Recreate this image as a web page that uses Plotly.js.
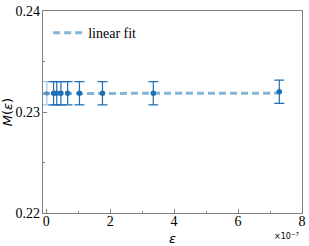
<!DOCTYPE html>
<html><head><meta charset="utf-8">
<script src="https://cdn.plot.ly/plotly-3.0.1.min.js"></script>
<style>html,body{margin:0;padding:0;background:#fff}#c{width:309px;height:246px}</style>
</head><body><div id="c"></div>
<script>
const epsilon = [0.23e-7, 0.33e-7, 0.46e-7, 0.67e-7, 1.04e-7, 1.76e-7, 3.35e-7, 7.29e-7];
const mValues = [0.23185, 0.23185, 0.23185, 0.23185, 0.23185, 0.23185, 0.23185, 0.2320];
const mErrors = [0.00115, 0.00115, 0.00115, 0.00115, 0.00115, 0.00115, 0.00115, 0.00115];
const extrapX = [0.02e-7];
const extrapY = [0.23185];
const extrapErr = [0.00115];
const fitX = [-0.1e-7, 7.29e-7];
const fitY = [0.23183, 0.23187];
const xTickVals = [0, 2e-7, 4e-7, 6e-7, 8e-7];
const xTickText = ["0", "2", "4", "6", "8"];
const yTickVals = [0.22, 0.23, 0.24];
const yTickText = ["0.22", "0.23", "0.24"];

const blue = '#1f6fb4';
const traces = [
  {x: fitX, y: fitY, mode: 'lines', name: 'linear fit',
   line: {color: 'rgba(31,119,180,0.55)', width: 3, dash: '7px,4px'}},
  {x: extrapX, y: extrapY, mode: 'markers', showlegend: false,
   marker: {color: 'rgba(31,111,180,0.4)', size: 5},
   error_y: {type: 'data', array: extrapErr, visible: true, color: 'rgba(31,111,180,0.4)', thickness: 1.2, width: 5}},
  {x: epsilon, y: mValues, mode: 'markers', showlegend: false,
   marker: {color: blue, size: 5.5},
   error_y: {type: 'data', array: mErrors, visible: true, color: blue, thickness: 1.2, width: 5}}
];
const serif = 'Liberation Serif';
const layout = {
  width: 309, height: 246,
  margin: {l: 43, r: 7, t: 11, b: 33},
  paper_bgcolor: '#fff', plot_bgcolor: '#fff',
  font: {family: serif, color: '#000'},
  showlegend: true,
  legend: {x: 0.02, y: 0.97, xanchor: 'left', yanchor: 'top', bgcolor: 'rgba(0,0,0,0)',
           font: {family: serif, size: 14, color: '#000'}},
  xaxis: {range: [-0.1e-7, 8e-7], tickmode: 'array', tickvals: xTickVals, ticktext: xTickText,
          ticks: 'inside', ticklen: 4, tickcolor: '#808080', showline: true, linecolor: '#808080', linewidth: 1.3,
          mirror: true, showgrid: false, zeroline: false, ticklabelstandoff: -5,
          tickfont: {family: serif, size: 14, color: '#000'},
          minor: {tickmode: 'array', tickvals: [1e-7, 3e-7, 5e-7, 7e-7], ticks: 'inside', ticklen: 2, tickcolor: '#808080', showgrid: false},
          title: {text: '<i>ε</i>', font: {family: 'DejaVu Sans', size: 13, color: '#000'}, standoff: 8}},
  yaxis: {range: [0.22, 0.24], tickmode: 'array', tickvals: yTickVals, ticktext: yTickText,
          ticks: 'inside', ticklen: 4, tickcolor: '#808080', showline: true, linecolor: '#808080', linewidth: 1.3,
          mirror: true, showgrid: false, zeroline: false, ticklabelstandoff: -1,
          tickfont: {family: serif, size: 14, color: '#000'},
          minor: {tickmode: 'array', tickvals: [0.225, 0.235], ticks: 'inside', ticklen: 2, tickcolor: '#808080', showgrid: false},
          title: {text: '<i>M</i>(<i>ε</i>)', font: {family: 'DejaVu Sans', size: 13, color: '#000'}, standoff: 4}},
  annotations: [{xref: 'paper', yref: 'paper', x: 1.0, y: -0.08, xanchor: 'right', yanchor: 'top',
                 text: '×10<sup>−7</sup>', showarrow: false, font: {family: 'DejaVu Sans', size: 8, color: '#000'}}]
};
Plotly.newPlot('c', traces, layout, {displayModeBar: false, staticPlot: true});
</script></body></html>
